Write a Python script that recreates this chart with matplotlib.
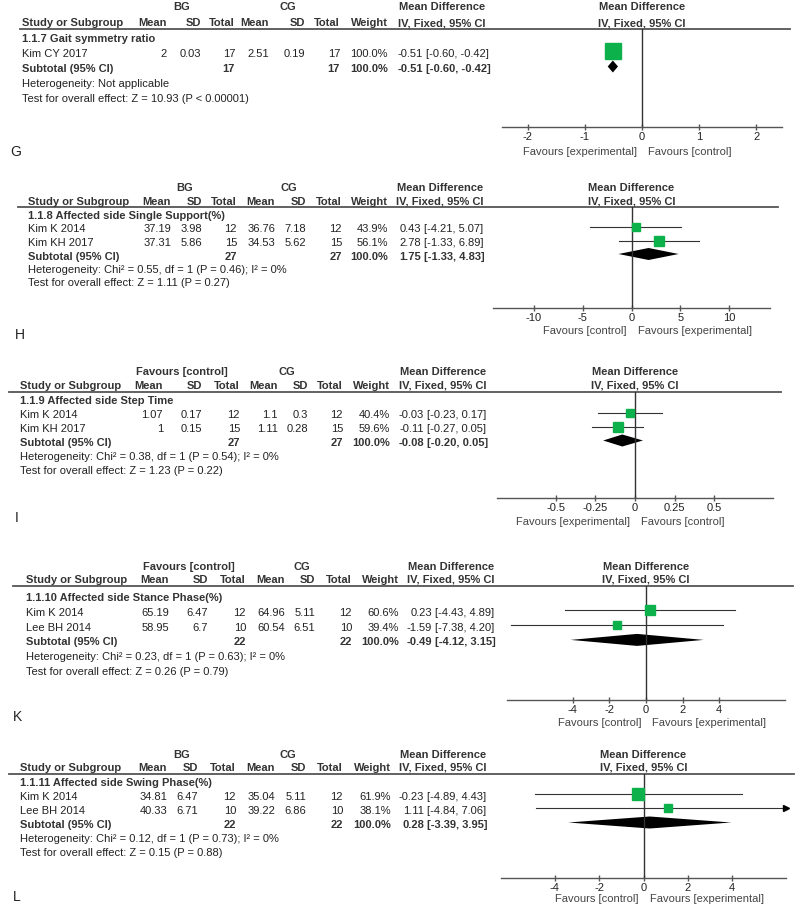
import matplotlib.pyplot as plt
from matplotlib import transforms

plt.rcParams['font.family'] = ['Liberation Sans', 'DejaVu Sans']
plt.rcParams['font.size'] = 8

# ---- G: 1.1.7 Gait symmetry ratio ----
g_title = "1.1.7 Gait symmetry ratio"
g_studies = ["Kim CY 2017"]
g_bg_mean = [2]
g_bg_sd = [0.03]
g_bg_n = [17]
g_cg_mean = [2.51]
g_cg_sd = [0.19]
g_cg_n = [17]
g_weight = [100.0]
g_md = [-0.51]
g_lo = [-0.60]
g_hi = [-0.42]
g_total = [17, 17]
g_pooled = [-0.51, -0.60, -0.42]
g_het = "Heterogeneity: Not applicable"
g_test = "Test for overall effect: Z = 10.93 (P < 0.00001)"
g_ticks = [-2, -1, 0, 1, 2]

# ---- H: 1.1.8 Affected side Single Support(%) ----
h_title = "1.1.8 Affected side Single Support(%)"
h_studies = ["Kim K 2014", "Kim KH 2017"]
h_bg_mean = [37.19, 37.31]
h_bg_sd = [3.98, 5.86]
h_bg_n = [12, 15]
h_cg_mean = [36.76, 34.53]
h_cg_sd = [7.18, 5.62]
h_cg_n = [12, 15]
h_weight = [43.9, 56.1]
h_md = [0.43, 2.78]
h_lo = [-4.21, -1.33]
h_hi = [5.07, 6.89]
h_total = [27, 27]
h_pooled = [1.75, -1.33, 4.83]
h_het = "Heterogeneity: Chi² = 0.55, df = 1 (P = 0.46); I² = 0%"
h_test = "Test for overall effect: Z = 1.11 (P = 0.27)"
h_ticks = [-10, -5, 0, 5, 10]

# ---- I: 1.1.9 Affected side Step Time ----
i_title = "1.1.9 Affected side Step Time"
i_studies = ["Kim K 2014", "Kim KH 2017"]
i_bg_mean = [1.07, 1]
i_bg_sd = [0.17, 0.15]
i_bg_n = [12, 15]
i_cg_mean = [1.1, 1.11]
i_cg_sd = [0.3, 0.28]
i_cg_n = [12, 15]
i_weight = [40.4, 59.6]
i_md = [-0.03, -0.11]
i_lo = [-0.23, -0.27]
i_hi = [0.17, 0.05]
i_total = [27, 27]
i_pooled = [-0.08, -0.20, 0.05]
i_het = "Heterogeneity: Chi² = 0.38, df = 1 (P = 0.54); I² = 0%"
i_test = "Test for overall effect: Z = 1.23 (P = 0.22)"
i_ticks = [-0.5, -0.25, 0, 0.25, 0.5]

# ---- K: 1.1.10 Affected side Stance Phase(%) ----
k_title = "1.1.10 Affected side Stance Phase(%)"
k_studies = ["Kim K 2014", "Lee BH 2014"]
k_bg_mean = [65.19, 58.95]
k_bg_sd = [6.47, 6.7]
k_bg_n = [12, 10]
k_cg_mean = [64.96, 60.54]
k_cg_sd = [5.11, 6.51]
k_cg_n = [12, 10]
k_weight = [60.6, 39.4]
k_md = [0.23, -1.59]
k_lo = [-4.43, -7.38]
k_hi = [4.89, 4.20]
k_total = [22, 22]
k_pooled = [-0.49, -4.12, 3.15]
k_het = "Heterogeneity: Chi² = 0.23, df = 1 (P = 0.63); I² = 0%"
k_test = "Test for overall effect: Z = 0.26 (P = 0.79)"
k_ticks = [-4, -2, 0, 2, 4]

# ---- L: 1.1.11 Affected side Swing Phase(%) ----
l_title = "1.1.11 Affected side Swing Phase(%)"
l_studies = ["Kim K 2014", "Lee BH 2014"]
l_bg_mean = [34.81, 40.33]
l_bg_sd = [6.47, 6.71]
l_bg_n = [12, 10]
l_cg_mean = [35.04, 39.22]
l_cg_sd = [5.11, 6.86]
l_cg_n = [12, 10]
l_weight = [61.9, 38.1]
l_md = [-0.23, 1.11]
l_lo = [-4.89, -4.84]
l_hi = [4.43, 7.06]
l_total = [22, 22]
l_pooled = [0.28, -3.39, 3.95]
l_het = "Heterogeneity: Chi² = 0.12, df = 1 (P = 0.73); I² = 0%"
l_test = "Test for overall effect: Z = 0.15 (P = 0.88)"
l_ticks = [-4, -2, 0, 2, 4]

EXP = "Favours [experimental]"
CTL = "Favours [control]"

panels = [
    dict(letter="G", group="BG", title=g_title, studies=g_studies,
         vals=[g_bg_mean, g_bg_sd, g_bg_n, g_cg_mean, g_cg_sd, g_cg_n],
         weight=g_weight, md=g_md, lo=g_lo, hi=g_hi, total=g_total,
         pooled=g_pooled, het=g_het, test=g_test, ticks=g_ticks,
         fav=(EXP, CTL)),
    dict(letter="H", group="BG", title=h_title, studies=h_studies,
         vals=[h_bg_mean, h_bg_sd, h_bg_n, h_cg_mean, h_cg_sd, h_cg_n],
         weight=h_weight, md=h_md, lo=h_lo, hi=h_hi, total=h_total,
         pooled=h_pooled, het=h_het, test=h_test, ticks=h_ticks,
         fav=(CTL, EXP)),
    dict(letter="I", group=CTL, title=i_title, studies=i_studies,
         vals=[i_bg_mean, i_bg_sd, i_bg_n, i_cg_mean, i_cg_sd, i_cg_n],
         weight=i_weight, md=i_md, lo=i_lo, hi=i_hi, total=i_total,
         pooled=i_pooled, het=i_het, test=i_test, ticks=i_ticks,
         fav=(EXP, CTL)),
    dict(letter="K", group=CTL, title=k_title, studies=k_studies,
         vals=[k_bg_mean, k_bg_sd, k_bg_n, k_cg_mean, k_cg_sd, k_cg_n],
         weight=k_weight, md=k_md, lo=k_lo, hi=k_hi, total=k_total,
         pooled=k_pooled, het=k_het, test=k_test, ticks=k_ticks,
         fav=(CTL, EXP)),
    dict(letter="L", group="BG", title=l_title, studies=l_studies,
         vals=[l_bg_mean, l_bg_sd, l_bg_n, l_cg_mean, l_cg_sd, l_cg_n],
         weight=l_weight, md=l_md, lo=l_lo, hi=l_hi, total=l_total,
         pooled=l_pooled, het=l_het, test=l_test, ticks=l_ticks,
         fav=(CTL, EXP)),
]

# pixel layout of each panel (y rows, x columns, plot box, axis half-range)
layouts = [
    dict(h1=7, h2=23, line=29, title=39, step=15, axis=127, fav=152,
         letter=(10, 152), sx=22, line_x0=20,
         cols=[167, 201, 235, 269, 305, 340, 388], est=423, bg_c=182, cg_c=288,
         px=(502, 782), lim=2.45),
    dict(h1=188, h2=202, line=207, title=216, step=13.5, axis=308, fav=331,
         letter=(15, 335), sx=28, line_x0=18,
         cols=[171, 202, 237, 275, 306, 342, 388], est=421, bg_c=185, cg_c=289,
         px=(493, 770), lim=14.2),
    dict(h1=372, h2=386, line=392, title=401, step=14, axis=498, fav=522,
         letter=(15, 518), sx=20, line_x0=9,
         cols=[163, 202, 240, 278, 308, 343, 390], est=424, bg_c=182, cg_c=287,
         px=(497, 773), lim=0.868),
    dict(h1=567, h2=580, line=586, title=598, step=14.8, axis=700, fav=723,
         letter=(13, 717), sx=26, line_x0=13,
         cols=[169, 208, 246, 285, 315, 352, 399], est=432, bg_c=189, cg_c=302,
         px=(507, 785), lim=7.6),
    dict(h1=755, h2=768, line=774, title=783, step=14, axis=878, fav=899,
         letter=(13, 897), sx=20, line_x0=9,
         cols=[167, 198, 236, 275, 306, 343, 391], est=424, bg_c=182, cg_c=288,
         px=(501, 786), lim=6.42),
]

TXT = '#222222'
LINE = '#555555'
GREEN = '#0db14b'
W, H = 800, 918

fig = plt.figure(figsize=(8, 9.18), dpi=100)
bg = fig.add_axes([0, 0, 1, 1])
bg.set_xlim(0, W)
bg.set_ylim(H, 0)
bg.axis('off')

headers = ['Mean', 'SD', 'Total', 'Mean', 'SD', 'Total', 'Weight']

for p, lay in zip(panels, layouts):
    cols = lay['cols']
    est = lay['est']
    # top headers
    bg.text(lay['bg_c'], lay['h1'], p['group'], ha='center', va='center', weight='bold', color='#333')
    bg.text(lay['cg_c'], lay['h1'], 'CG', ha='center', va='center', weight='bold', color='#333')
    bg.text(est + 19, lay['h1'], 'Mean Difference', ha='center', va='center', weight='bold', color='#333')
    bg.text(lay['sx'], lay['h2'], 'Study or Subgroup', ha='left', va='center', weight='bold', color='#333')
    for x, t in zip(cols, headers):
        bg.text(x, lay['h2'], t, ha='right', va='center', weight='bold', color='#333')
    bg.text(est + 19, lay['h2'], 'IV, Fixed, 95% CI', ha='center', va='center', weight='bold', color='#333')
    bg.plot([lay['line_x0'], lay['px'][1] + 8], [lay['line'], lay['line']], color=LINE, lw=1.3)

    # subgroup title and study rows
    bg.text(lay['sx'], lay['title'], p['title'], ha='left', va='center', weight='bold', color='#333')
    ys = []
    for i, name in enumerate(p['studies']):
        y = lay['title'] + lay['step'] * (i + 1)
        ys.append(y)
        bg.text(lay['sx'], y, name, ha='left', va='center', color=TXT)
        for x, v in zip(cols[:6], p['vals']):
            bg.text(x, y, f"{v[i]:g}", ha='right', va='center', color=TXT)
        bg.text(cols[6], y, f"{p['weight'][i]:.1f}%", ha='right', va='center', color=TXT)
        bg.text(est, y, f"{p['md'][i]:.2f}", ha='right', va='center', color=TXT)
        bg.text(est + 3, y, f"[{p['lo'][i]:.2f}, {p['hi'][i]:.2f}]", ha='left', va='center', color=TXT)
    n = len(p['studies'])
    ys_sub = lay['title'] + lay['step'] * (n + 1)
    bg.text(lay['sx'], ys_sub, 'Subtotal (95% CI)', ha='left', va='center', weight='bold', color='#333')
    bg.text(cols[2], ys_sub, str(p['total'][0]), ha='right', va='center', weight='bold', color='#333')
    bg.text(cols[5], ys_sub, str(p['total'][1]), ha='right', va='center', weight='bold', color='#333')
    bg.text(cols[6], ys_sub, '100.0%', ha='right', va='center', weight='bold', color='#333')
    pm, pl, ph = p['pooled']
    bg.text(est, ys_sub, f"{pm:.2f}", ha='right', va='center', weight='bold', color='#333')
    bg.text(est + 3, ys_sub, f"[{pl:.2f}, {ph:.2f}]", ha='left', va='center', weight='bold', color='#333')
    bg.text(lay['sx'], ys_sub + lay['step'], p['het'], ha='left', va='center', color=TXT)
    bg.text(lay['sx'], ys_sub + 2 * lay['step'], p['test'], ha='left', va='center', color=TXT)
    bg.text(lay['letter'][0], lay['letter'][1], p['letter'], ha='left', va='center', fontsize=10, color=TXT)

    # forest plot
    x0, x1 = lay['px']
    ax = fig.add_axes([x0 / W, 1 - lay['axis'] / H, (x1 - x0) / W, (lay['axis'] - lay['line']) / H])
    ax.set_facecolor('none')
    lim = lay['lim']
    ax.set_xlim(-lim, lim)
    ax.set_ylim(lay['axis'], lay['line'])
    for s in ['top', 'left', 'right']:
        ax.spines[s].set_visible(False)
    ax.spines['bottom'].set_color(LINE)
    ax.spines['bottom'].set_linewidth(1)
    ax.set_yticks([])
    ax.set_xticks(p['ticks'])
    ax.set_xticklabels([f"{t:g}" for t in p['ticks']])
    ax.tick_params(axis='x', direction='inout', length=4.5, width=1, color=LINE,
                   pad=1, labelsize=8, labelcolor=TXT)
    ax.axvline(0, color='#333333', lw=1)

    for i in range(n):
        y = ys[i] - 2.5
        lo_c = max(p['lo'][i], -lim)
        hi_c = min(p['hi'][i], lim)
        ax.plot([lo_c, hi_c], [y, y], color='#333333', lw=0.8)
        if p['hi'][i] > lim:
            ax.plot(lim, y, marker='>', ms=4, color='black', clip_on=False)
        side = 3 + 13 * p['weight'][i] / 100
        ax.plot(p['md'][i], y, 's', ms=side * 0.72, color=GREEN, mec=GREEN)
    yd = ys_sub - 2.5
    ax.fill([pl, pm, ph, pm], [yd, yd - 6, yd, yd + 6], color='black', lw=0)

    # right headers and favours labels, anchored at the zero of the axis
    tr = transforms.blended_transform_factory(ax.transData, bg.transData)
    bg.text(0, lay['h1'], 'Mean Difference', transform=tr, ha='center', va='center', weight='bold', color='#333')
    bg.text(0, lay['h2'], 'IV, Fixed, 95% CI', transform=tr, ha='center', va='center', weight='bold', color='#333')
    left_tr = transforms.offset_copy(tr, fig=fig, x=-5, y=0, units='dots')
    right_tr = transforms.offset_copy(tr, fig=fig, x=6, y=0, units='dots')
    bg.text(0, lay['fav'], p['fav'][0], transform=left_tr, ha='right', va='center', color='#444')
    bg.text(0, lay['fav'], p['fav'][1], transform=right_tr, ha='left', va='center', color='#444')

fig.savefig('out.png', dpi=100)
